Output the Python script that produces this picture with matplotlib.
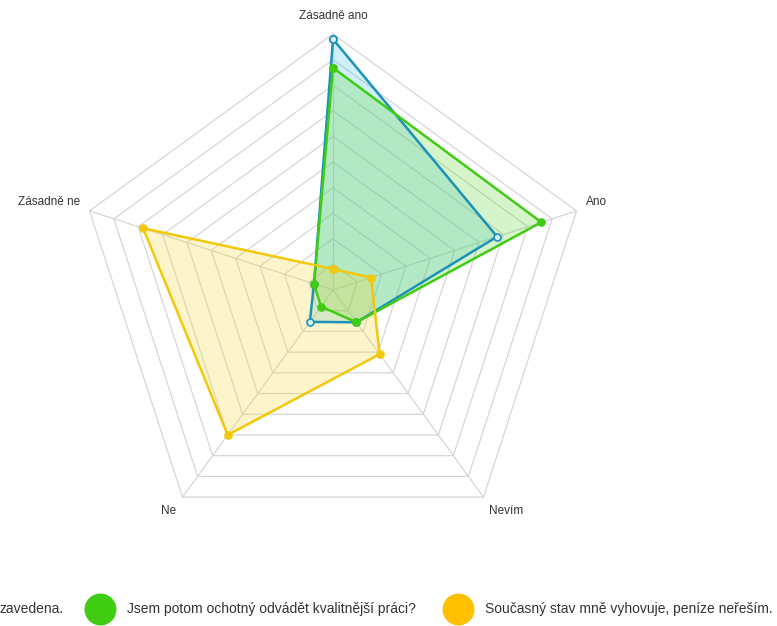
import numpy as np
import matplotlib
matplotlib.use("Agg")
import matplotlib.pyplot as plt

plt.rcParams['font.family'] = ['Liberation Sans', 'DejaVu Sans']

# osy grafu (po směru hodinových ručiček od vrcholu)
kategorie = ["Zásadně ano", "Ano", "Nevím", "Ne", "Zásadně ne"]

# hodnoty v procentech
modra = [49.0, 33.7, 7.8, 7.7, 3.9]
zelena = [43.4, 42.8, 7.8, 4.0, 3.9]
zluta = [4.1, 7.8, 15.5, 35.0, 39.0]

legenda = ["zavedena.",
           "Jsem potom ochotný odvádět kvalitnější práci?",
           "Současný stav mně vyhovuje, peníze neřeším."]

maximum = 50
kroky = 10

barvy = ["#1b93b8", "#3fcc12", "#f2c80a"]
vyplne = ["#40c4e6", "#5fd42a", "#f7d730"]


def xy(hodnoty):
    """Převede hodnoty na souřadnice (úhel od vrcholu po směru hodin)."""
    n = len(hodnoty)
    uhly = np.pi / 2 - np.arange(n) * 2 * np.pi / n
    h = np.asarray(hodnoty, dtype=float)
    x = h * np.cos(uhly)
    y = h * np.sin(uhly)
    return np.append(x, x[0]), np.append(y, y[0])


fig = plt.figure(figsize=(7.77, 6.26), dpi=100)
ax = fig.add_axes([0, 0, 1, 1])
ax.set_xlim(-65.04, 86.72)
ax.set_ylim(-65.63, 56.64)
ax.set_aspect("equal")
ax.axis("off")

# mřížka
for k in range(1, kroky + 1):
    gx, gy = xy([maximum * k / kroky] * len(kategorie))
    ax.plot(gx, gy, color="#d6d6d6", lw=0.9, zorder=1)
vx, vy = xy([maximum] * len(kategorie))
for i in range(len(kategorie)):
    ax.plot([0, vx[i]], [0, vy[i]], color="#d6d6d6", lw=0.9, zorder=1)

# řady
for hodnoty, barva, vypln, duta in zip([modra, zelena, zluta], barvy, vyplne,
                                        [True, False, False]):
    sx, sy = xy(hodnoty)
    ax.fill(sx, sy, color=vypln, alpha=0.25, lw=0, zorder=2)
    ax.plot(sx, sy, color=barva, lw=1.8, zorder=3,
            marker="o", markersize=5,
            markerfacecolor="#d8f2f8" if duta else barva,
            markeredgecolor=barva, markeredgewidth=1.2)

# popisky os
lx, ly = xy([52] * len(kategorie))
for i, nazev in enumerate(kategorie):
    if i == 0:
        ax.text(0, 53.5, nazev, ha="center", va="center", fontsize=8.5, color="#333333")
        continue
    ha = "left" if lx[i] > 0 else "right"
    va = "bottom" if ly[i] > 0 else "top"
    ax.text(lx[i], ly[i], nazev, ha=ha, va=va, fontsize=8.5, color="#333333")

# legenda
W, H = 777, 626
fig.text(0, 1 - 609 / H, legenda[0], ha="left", va="center",
         fontsize=10, color="#333333")
for poz, text, barva in [(100, legenda[1], barvy[1]), (458, legenda[2], "#ffc000")]:
    ax.plot([poz / W], [1 - 609 / H], transform=fig.transFigure, clip_on=False,
            marker="o", markersize=22, color=barva, ls="none")
    fig.text((poz + 27) / W, 1 - 609 / H, text, ha="left", va="center",
             fontsize=10, color="#333333")

fig.savefig("out.png", dpi=100)
